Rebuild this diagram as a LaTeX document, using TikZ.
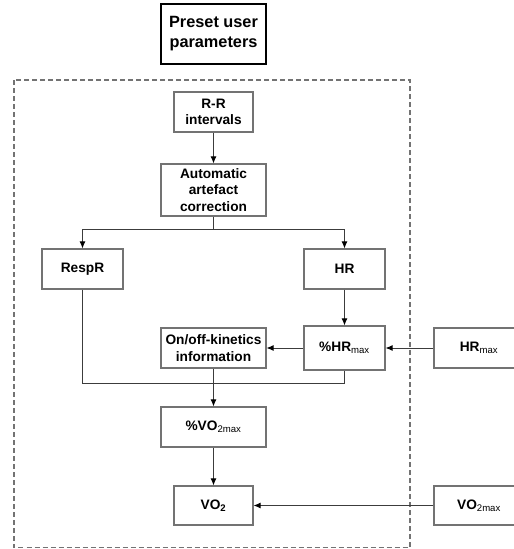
\documentclass[tikz,border=0pt]{standalone}
\usepackage{fontspec}
\setmainfont{Liberation Sans}
\usepackage{xcolor}
\usetikzlibrary{arrows.meta}
\usetikzlibrary{calc}
\definecolor{boxgray}{RGB}{115,115,115}
\definecolor{linegray}{RGB}{60,60,60}

\begin{document}
\begin{tikzpicture}[x=1pt,y=-1pt,
  block/.style={draw=boxgray, line width=1.2pt, align=center, inner sep=0pt,
    font=\fontsize{13.7}{16.6}\selectfont\bfseries},
  conn/.style={draw=linegray, line width=0.9pt},
  arr/.style={conn, -{Latex[length=7pt,width=6pt,color=black]}}]
\useasboundingbox (0,0) rectangle (514,549);
\clip (0,0) rectangle (514,549);

%outer frame
\draw[boxgray, line width=1.1pt, dash pattern=on 5pt off 3pt] (14,80) rectangle (410,547.5);

\node[draw=black, line width=2.6pt, align=center, inner sep=0pt,
  minimum width=105pt, minimum height=60pt,
  font=\fontsize{16.3}{20}\selectfont\bfseries] (preset) at (213.5,34) {Preset user\\parameters};

\node[block, minimum width=79pt, minimum height=40pt] (rr) at (213.5,112) {R-R\\intervals};
\node[block, minimum width=105pt, minimum height=52pt] (auto) at (213.5,190) {Automatic\\artefact\\correction};
\node[block, minimum width=81pt, minimum height=40pt] (respr) at (82.5,269) {RespR};
\node[block, minimum width=81pt, minimum height=40pt] (hr) at (344.5,269) {HR};
\node[block, minimum width=105pt, minimum height=40pt] (onoff) at (213.5,348) {On/off-kinetics\\information};
\node[block, minimum width=81pt, minimum height=44pt] (phr) at (344.5,348) {\%HR\textsubscript{\mdseries max}};
\node[block, minimum width=90pt, minimum height=40pt] (hrmax) at (479,348) {HR\textsubscript{\mdseries max}};
\node[block, minimum width=105pt, minimum height=40pt] (pvo) at (213.5,427) {\%VO\textsubscript{\mdseries 2max}};
\node[block, minimum width=79pt, minimum height=39pt] (vo) at (213.5,505.5) {VO\textsubscript{2}};
\node[block, minimum width=90pt, minimum height=39pt] (vomax) at (479,505.5) {VO\textsubscript{\mdseries 2max}};

%connectors
\coordinate (split) at ($(auto.south)+(0,13)$);
\coordinate (merge) at ($(onoff.south)+(0,15)$);
\draw[arr] (rr) -- (auto);
\draw[conn] (auto.south) -- (split);
\draw[arr] (split) -| (respr.north);
\draw[arr] (split) -| (hr.north);
\draw[arr] (hr) -- (phr);
\draw[arr] (hrmax) -- (phr);
\draw[arr] (phr) -- (onoff);
\draw[conn] (respr.south) |- (merge) -| (phr.south);
\draw[arr] (onoff) -- (pvo);
\draw[arr] (pvo) -- (vo);
\draw[arr] (vomax) -- (vo);

\end{tikzpicture}
\end{document}
